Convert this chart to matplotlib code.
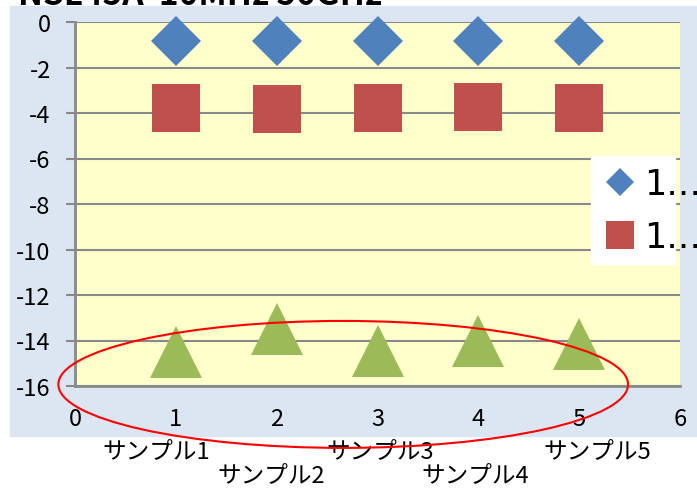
import matplotlib.pyplot as plt
from matplotlib.patches import Rectangle, Ellipse

plt.rcParams['font.family'] = ['Noto Sans CJK JP', 'DejaVu Sans']
plt.rcParams['axes.unicode_minus'] = False

# データ
samples = [1, 2, 3, 4, 5]
sample_names = ['サンプル1', 'サンプル2', 'サンプル3', 'サンプル4', 'サンプル5']
serie_diamond = [-0.84, -0.84, -0.84, -0.84, -0.84]
serie_square = [-3.78, -3.82, -3.76, -3.75, -3.78]
serie_triangle = [-14.5, -13.5, -14.46, -14.0, -14.15]
legend_labels = ['1…', '1…']

fig = plt.figure(figsize=(6.97, 4.89), dpi=100)
W, H = 697, 489

# fundo azul da área do gráfico
fig.patches.append(Rectangle((10 / W, 1 - 437 / H), 1, (437 - 7) / H,
                             transform=fig.transFigure, color='#DCE6F2',
                             zorder=0))

ax = fig.add_axes([75 / W, 1 - 387 / H, 605 / W, 364 / H])
ax.set_zorder(1)
ax.set_facecolor('#FFFFCC')
ax.set_xlim(0, 6)
ax.set_ylim(-16, 0)
ax.set_yticks(range(-16, 1, 2))
ax.set_xticks(range(0, 7))
ax.grid(axis='y', color='#898989', linewidth=1.5)
ax.set_axisbelow(True)
for s in ['top', 'right']:
  ax.spines[s].set_visible(False)
for s in ['left', 'bottom']:
  ax.spines[s].set_color('#898989')
  ax.spines[s].set_linewidth(2)
ax.tick_params(axis='y', length=6.5, width=1.5, color='#898989', pad=11,
               labelsize=17)
ax.tick_params(axis='x', length=0, pad=15, labelsize=17)

ax.plot(samples, serie_diamond, 'D', color='#4F81BD', markersize=25.5,
        markeredgewidth=0, clip_on=False, label=legend_labels[0])
ax.plot(samples, serie_square, 's', color='#C0504D', markersize=35,
        markeredgewidth=0, clip_on=False, label=legend_labels[1])
ax.plot(samples, serie_triangle, '^', color='#9BBB59', markersize=38,
        markeredgewidth=0, clip_on=False)

# elipse vermelha ao redor dos triângulos
ax.add_patch(Ellipse((2.66, -15.93), 5.65, 5.58, fill=False, edgecolor='red',
                     linewidth=1.5, clip_on=False, zorder=5))

# nomes das amostras (caixas de texto)
offsets = [(-20, -66), (-5, -90), (3, -66), (-3, -90), (18, -66)]
for x, nome, off in zip(samples, sample_names, offsets):
  ax.annotate(nome, xy=(x, -16), xytext=off, textcoords='offset pixels',
              ha='center', va='center', fontsize=17, annotation_clip=False)

# legenda
fig.patches.append(Rectangle((591 / W, 1 - 265 / H), 84 / W, 108 / H,
                             transform=fig.transFigure, color='white',
                             zorder=3))
leg = fig.legend(loc='upper left', bbox_to_anchor=(604 / W, 1 - 168 / H),
                 frameon=False, prop={'family': 'DejaVu Sans', 'size': 25},
                 markerscale=0.57, handlelength=0.9, handletextpad=0.25,
                 borderpad=0, labelspacing=0.55, borderaxespad=0)
leg.set_zorder(4)

# título (cortado no topo)
fig.text(-2 / W, 1 - 5 / H, '- NSL45A  10MHz 50GHz', fontsize=24,
         fontweight='bold', va='baseline', ha='left', zorder=5)

plt.savefig('out.png', dpi=100)
